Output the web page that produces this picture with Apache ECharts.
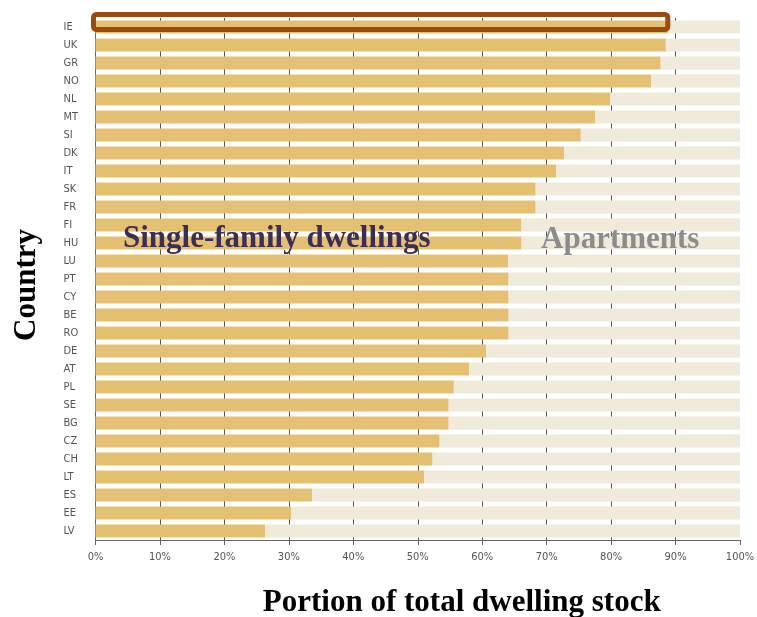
<!DOCTYPE html>
<html>
<head>
<meta charset="utf-8">
<script src="https://cdn.jsdelivr.net/npm/echarts@6/dist/echarts.min.js"></script>
<style>
  html, body { margin: 0; padding: 0; background: #fff; }
  #chart { width: 757px; height: 617px; }
</style>
</head>
<body>
<div id="chart"></div>
<script>
// countries, top to bottom
const countries = ["IE", "UK", "GR", "NO", "NL", "MT", "SI", "DK", "IT", "SK", "FR", "FI", "HU", "LU",
  "PT", "CY", "BE", "RO", "DE", "AT", "PL", "SE", "BG", "CZ", "CH", "LT", "ES", "EE", "LV"];

// share of single-family dwellings (%)
const singleFamily = [88.8, 88.5, 87.7, 86.2, 79.9, 77.5, 75.3, 72.7, 71.5, 68.3, 68.3, 66.1, 66.1, 64.0,
  64.1, 64.1, 64.1, 64.1, 60.6, 58.0, 55.6, 54.8, 54.8, 53.4, 52.3, 51.0, 33.6, 30.4, 26.3];

// the rest is apartments
const apartments = singleFamily.map(v => +(100 - v).toFixed(1));

const xTicks = [0, 10, 20, 30, 40, 50, 60, 70, 80, 90, 100];

const highlighted = "IE";

const serif = "'Liberation Serif', 'DejaVu Serif', serif";
const narrow = "'Liberation Sans Narrow', 'DejaVu Sans Condensed', 'Open Sans', sans-serif";

const myChart = echarts.init(document.getElementById("chart"));

const option = {
  animation: false,
  grid: {
    left: 95.5,
    right: 17,
    top: 18,
    bottom: 77,
    containLabel: false,
    outerBoundsMode: "none",
  },
  xAxis: {
    type: "value",
    min: xTicks[0],
    max: xTicks[xTicks.length - 1],
    interval: 10,
    name: "Portion of total dwelling stock",
    nameLocation: "middle",
    nameGap: 47,
    nameTextStyle: {
      fontFamily: serif,
      fontWeight: "bold",
      fontSize: 31,
      color: "#000",
      padding: [0, 0, 0, 88],
    },
    axisLine: { show: true, lineStyle: { color: "#666", width: 1 } },
    axisTick: { show: true, length: 5, lineStyle: { color: "#666" } },
    axisLabel: {
      formatter: "{value}%",
      color: "#555",
      fontFamily: narrow,
      fontSize: 11,
      margin: 12,
    },
    splitLine: {
      show: true,
      showMinLine: false,
      showMaxLine: false,
      lineStyle: { color: "#555", width: 1 },
    },
  },
  yAxis: {
    type: "category",
    data: countries,
    inverse: true,
    name: "Country",
    nameLocation: "middle",
    nameRotate: 90,
    nameGap: 53,
    nameTextStyle: {
      fontFamily: serif,
      fontWeight: "bold",
      fontSize: 31,
      color: "#000",
      padding: [0, 12, 0, 0],
    },
    axisLine: { show: true, lineStyle: { color: "#666", width: 1 } },
    axisTick: { show: false },
    axisLabel: {
      align: "left",
      margin: 32,
      color: "#555",
      fontFamily: narrow,
      fontSize: 11,
    },
  },
  series: [
    {
      name: "Single-family dwellings",
      type: "bar",
      stack: "total",
      barWidth: 13,
      itemStyle: { color: "#E5BF72" },
      data: singleFamily,
    },
    {
      name: "Apartments",
      type: "bar",
      stack: "total",
      barWidth: 13,
      itemStyle: { color: "#EFEADA" },
      data: apartments,
    },
  ],
  graphic: [
    {
      id: "sfLabel",
      type: "text",
      x: 123,
      y: 239,
      z: 10,
      style: {
        text: "Single-family dwellings",
        font: "bold 31px " + serif,
        fill: "#3B2E56",
        verticalAlign: "middle",
      },
    },
    {
      id: "apLabel",
      type: "text",
      x: 541,
      y: 240,
      z: 10,
      style: {
        text: "Apartments",
        font: "bold 31px " + serif,
        fill: "#8C8C8C",
        verticalAlign: "middle",
      },
    },
  ],
};

myChart.setOption(option);

// brown frame round the highlighted country's bar
const idx = countries.indexOf(highlighted);
const start = myChart.convertToPixel({ seriesIndex: 0 }, [0, highlighted]);
const end = myChart.convertToPixel({ seriesIndex: 0 }, [singleFamily[idx], highlighted]);
myChart.setOption({
  graphic: [
    {
      id: "frame",
      type: "rect",
      z: 20,
      shape: {
        x: start[0] - 2,
        y: start[1] - 12.5,
        width: end[0] - start[0] + 2,
        height: 15,
        r: 3,
      },
      style: { fill: null, stroke: "#9A4A0C", lineWidth: 5 },
    },
  ],
});
</script>
</body>
</html>
